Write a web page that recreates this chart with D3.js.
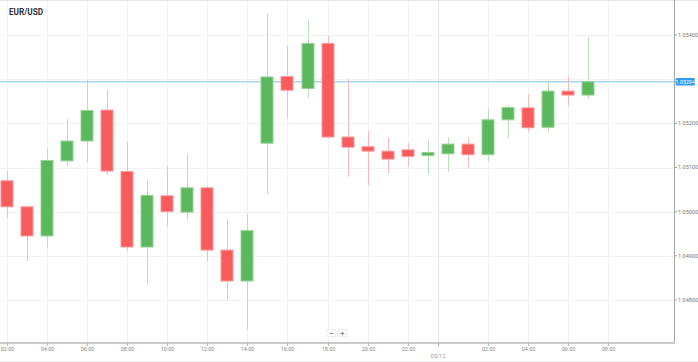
<!DOCTYPE html>
<html>
<head>
<meta charset="utf-8">
<script src="https://cdn.jsdelivr.net/npm/d3@7"></script>
<style>
  html, body { margin: 0; padding: 0; background: #fff; }
  svg { display: block; font-family: Roboto, "Open Sans", sans-serif; }
</style>
</head>
<body>
<div id="chart"></div>
<script>
// giờ của từng nến (tính từ 00:00 ngày 04/12; 24 = 00:00 ngày 05/12)
const hours = [2, 3, 4, 5, 6, 7, 8, 9, 10, 11, 12, 13, 14, 15, 16, 17, 18, 19, 20, 21, 22, 23, 24, 25, 26, 27, 28, 29, 30, 31];
const open  = [1.05070, 1.05011, 1.04945, 1.05115, 1.05160, 1.05230, 1.05091, 1.04920, 1.05036, 1.04999, 1.05054, 1.04913, 1.04843, 1.05155, 1.05306, 1.05279, 1.05381, 1.05169, 1.05147, 1.05137, 1.05140, 1.05127, 1.05131, 1.05153, 1.05129, 1.05208, 1.05235, 1.05191, 1.05273, 1.05264];
const high  = [1.05092, 1.05014, 1.05143, 1.05210, 1.05298, 1.05275, 1.05158, 1.05071, 1.05103, 1.05131, 1.05058, 1.04983, 1.04995, 1.05449, 1.05376, 1.05434, 1.05398, 1.05300, 1.05183, 1.05167, 1.05155, 1.05164, 1.05167, 1.05167, 1.05235, 1.05241, 1.05266, 1.05296, 1.05306, 1.05395];
const low   = [1.04986, 1.04888, 1.04918, 1.05104, 1.05111, 1.05083, 1.04912, 1.04834, 1.04966, 1.04983, 1.04888, 1.04801, 1.04732, 1.05040, 1.05211, 1.05258, 1.05166, 1.05079, 1.05059, 1.05087, 1.05102, 1.05085, 1.05090, 1.05100, 1.05114, 1.05167, 1.05181, 1.05181, 1.05238, 1.05256];
const close = [1.05011, 1.04945, 1.05116, 1.05160, 1.05229, 1.05092, 1.04920, 1.05037, 1.05000, 1.05054, 1.04913, 1.04843, 1.04957, 1.05305, 1.05275, 1.05381, 1.05169, 1.05146, 1.05137, 1.05119, 1.05125, 1.05134, 1.05153, 1.05129, 1.05208, 1.05236, 1.05190, 1.05273, 1.05264, 1.05294];

const priceTicks = [1.048, 1.049, 1.050, 1.051, 1.052, 1.053, 1.054];
const timeTicks = [2, 4, 6, 8, 10, 12, 14, 16, 18, 20, 22, 26, 28, 30, 32];
const dayMark = { hour: 23.5, label: "05/12" };
const lastPrice = 1.05294;
const symbol = "EUR/USD";

const totalW = 698, totalH = 362;
const W = 674, H = 343;

const candles = hours.map((h, i) => ({ h, o: open[i], hi: high[i], lo: low[i], c: close[i] }));

const svg = d3.select("#chart").append("svg")
  .attr("width", totalW)
  .attr("height", totalH);

const x = d3.scaleLinear().domain([1.666, 35.27]).range([0, W]);
const y = d3.scaleLinear().domain([1.048, 1.054]).range([300, 35]);

// lưới
svg.append("g").selectAll("line")
  .data(priceTicks)
  .enter().append("line")
  .attr("x1", 0).attr("x2", W)
  .attr("y1", d => Math.round(y(d)) + 0.5)
  .attr("y2", d => Math.round(y(d)) + 0.5)
  .attr("stroke", "#f2f2f2");

svg.append("g").selectAll("line")
  .data(timeTicks)
  .enter().append("line")
  .attr("x1", d => Math.round(x(d)) + 0.5)
  .attr("x2", d => Math.round(x(d)) + 0.5)
  .attr("y1", 0).attr("y2", H)
  .attr("stroke", "#f2f2f2");

svg.append("line")
  .attr("x1", Math.round(x(dayMark.hour)) + 0.5)
  .attr("x2", Math.round(x(dayMark.hour)) + 0.5)
  .attr("y1", 0).attr("y2", H)
  .attr("stroke", "#e4e4e4");

// viền trên
svg.append("line")
  .attr("x1", 0).attr("x2", totalW)
  .attr("y1", 0.5).attr("y2", 0.5)
  .attr("stroke", "#e6e6e6");

// đường giá hiện tại
svg.append("line")
  .attr("x1", 0).attr("x2", W)
  .attr("y1", y(lastPrice)).attr("y2", y(lastPrice))
  .attr("stroke", "#a9d5f5")
  .attr("stroke-width", 1.5);

// nến
const up = "#5cb85c", down = "#f75b5b";
const upWick = "#b8e0b8", downWick = "#f9b9b9";
const upEdge = "#95d195", downEdge = "#fa9a9a";
const bw = 12;

const g = svg.append("g");

g.selectAll(".wick")
  .data(candles)
  .enter().append("line")
  .attr("class", "wick")
  .attr("x1", d => Math.round(x(d.h)) + 0.5)
  .attr("x2", d => Math.round(x(d.h)) + 0.5)
  .attr("y1", d => y(d.hi))
  .attr("y2", d => y(d.lo))
  .attr("stroke", d => d.c >= d.o ? upWick : downWick);

g.selectAll(".body")
  .data(candles)
  .enter().append("rect")
  .attr("class", "body")
  .attr("x", d => Math.round(x(d.h)) - bw / 2)
  .attr("width", bw)
  .attr("y", d => y(Math.max(d.o, d.c)))
  .attr("height", d => Math.max(1.5, Math.abs(y(d.o) - y(d.c))))
  .attr("fill", d => d.c >= d.o ? up : down)
  .attr("stroke", d => d.c >= d.o ? upEdge : downEdge)
  .attr("stroke-width", 1);

// trục phải
svg.append("line")
  .attr("x1", W + 0.5).attr("x2", W + 0.5)
  .attr("y1", 0).attr("y2", H)
  .attr("stroke", "#a8a8a8");

const yTicks = svg.append("g").selectAll("g")
  .data(priceTicks.filter(d => Math.abs(y(d) - y(lastPrice)) > 6))
  .enter().append("g")
  .attr("transform", d => `translate(${W}, ${y(d)})`);

yTicks.append("line")
  .attr("x1", 1).attr("x2", 3)
  .attr("stroke", "#999");

yTicks.append("text")
  .attr("x", 4)
  .attr("dy", "0.35em")
  .style("font-size", "5.5px")
  .style("fill", "#777")
  .text(d => d3.format(".5f")(d));

// nhãn giá hiện tại
svg.append("rect")
  .attr("x", W + 1.5)
  .attr("y", y(lastPrice) - 3.8)
  .attr("width", 19.5)
  .attr("height", 7.6)
  .attr("rx", 1.5)
  .attr("fill", "#2d9cf0");

svg.append("text")
  .attr("x", W + 11.2)
  .attr("y", y(lastPrice))
  .attr("dy", "0.35em")
  .attr("text-anchor", "middle")
  .style("font-size", "5.3px")
  .style("fill", "#fff")
  .text(d3.format(".5f")(lastPrice));

// trục dưới
svg.append("line")
  .attr("x1", 0).attr("x2", W + 1)
  .attr("y1", H).attr("y2", H)
  .attr("stroke", "#b8b8b8")
  .attr("stroke-width", 1.5);

const xTicks = svg.append("g").selectAll("g")
  .data(timeTicks)
  .enter().append("g")
  .attr("transform", d => `translate(${Math.round(x(d)) + 0.5}, ${H})`);

xTicks.append("line")
  .attr("y1", 0).attr("y2", 2.5)
  .attr("stroke", "#aaa");

xTicks.append("text")
  .attr("y", 6.5)
  .attr("dy", "0.35em")
  .attr("text-anchor", "middle")
  .style("font-size", "5.5px")
  .style("fill", "#888")
  .text(d => String(d % 24).padStart(2, "0") + ":00");

svg.append("line")
  .attr("x1", Math.round(x(dayMark.hour)) + 0.5)
  .attr("x2", Math.round(x(dayMark.hour)) + 0.5)
  .attr("y1", H).attr("y2", H + 3)
  .attr("stroke", "#aaa");

svg.append("text")
  .attr("x", x(dayMark.hour))
  .attr("y", 356)
  .attr("dy", "0.35em")
  .attr("text-anchor", "middle")
  .style("font-size", "5.5px")
  .style("fill", "#999")
  .text(dayMark.label);

// viền dưới
svg.append("line")
  .attr("x1", 0).attr("x2", totalW)
  .attr("y1", 361.5).attr("y2", 361.5)
  .attr("stroke", "#ececec");

// nút phóng to / thu nhỏ
const zoomBtns = svg.append("g").selectAll("g")
  .data(["−", "+"])
  .enter().append("g")
  .attr("transform", (d, i) => `translate(${327 + i * 11.3}, 329.5)`);

zoomBtns.append("rect")
  .attr("width", 8.5).attr("height", 7)
  .attr("fill", "#fff")
  .attr("stroke", "#ececec");

zoomBtns.append("text")
  .attr("x", 4.25).attr("y", 3.5)
  .attr("dy", "0.35em")
  .attr("text-anchor", "middle")
  .style("font-size", "8px")
  .style("font-weight", "bold")
  .style("fill", "#888")
  .text(d => d);

// tiêu đề
svg.append("text")
  .attr("x", 9)
  .attr("y", 15)
  .style("font-size", "8.2px")
  .style("font-weight", "bold")
  .style("fill", "#333")
  .text(symbol);
</script>
</body>
</html>
